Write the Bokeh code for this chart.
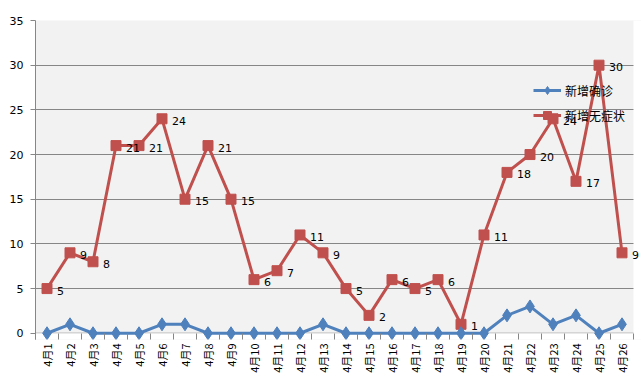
from bokeh.plotting import figure
from bokeh.models import (ColumnDataSource, FixedTicker, Legend, LegendItem, Range1d,
                          LabelSet, BoxAnnotation, Span)
from bokeh.core.properties import value
from bokeh.embed import file_html
from bokeh.resources import INLINE
import math

days = ["4月%d" % d for d in range(1, 27)]
confirmed = [0, 1, 0, 0, 0, 1, 1, 0, 0, 0, 0, 0, 1, 0, 0, 0, 0, 0, 0, 0, 2, 3, 1, 2, 0, 1]
asymptomatic = [5, 9, 8, 21, 21, 24, 15, 21, 15, 6, 7, 11, 9, 5, 2, 6, 5, 6, 1, 11, 18, 20, 24, 17, 30, 9]
y_ticks = [0, 5, 10, 15, 20, 25, 30, 35]

xs = list(range(1, len(days) + 1))
src = ColumnDataSource(dict(x=xs, c=confirmed, a=asymptomatic, lab=[str(v) for v in asymptomatic]))

BLUE = "#4F81BD"
RED = "#C0504D"
GRID = "#868686"

N = len(days)
YMIN = -0.7          # small pad below zero so markers at 0 are not clipped
XMAX = N + 0.5 + 8 / 23.0   # extra room on the right so the last label is not clipped
p = figure(width=641, height=379, output_backend="svg", toolbar_location=None,
           x_range=Range1d(0.5, XMAX), y_range=Range1d(YMIN, 35),
           min_border_left=35, min_border_right=0, min_border_top=20, min_border_bottom=40)
p.background_fill_color = "#F2F2F2"
p.border_fill_color = "white"
p.outline_line_color = None

p.xgrid.grid_line_color = None
p.ygrid.grid_line_color = GRID
p.ygrid.ticker = FixedTicker(ticks=y_ticks[1:])
p.add_layout(Span(location=0, dimension="width", line_color=GRID, line_width=1, level="underlay"))

# white strips outside the original plotting area
p.add_layout(BoxAnnotation(bottom=YMIN, top=0, fill_color="white", fill_alpha=1,
                           line_color=None, level="underlay"))
p.add_layout(BoxAnnotation(left=N + 0.5, fill_color="white", fill_alpha=1,
                           line_color=None, level="underlay"))

p.yaxis.ticker = FixedTicker(ticks=y_ticks)
p.yaxis.axis_line_color = GRID
p.yaxis.major_tick_line_color = GRID
p.yaxis.major_tick_in = 0
p.yaxis.major_tick_out = 5
p.yaxis.minor_tick_line_color = None
p.yaxis.major_label_text_font = "DejaVu Sans"
p.yaxis.major_label_text_font_size = "11px"
p.yaxis.major_label_text_color = "black"
p.yaxis.major_label_standoff = 7

p.xaxis.ticker = FixedTicker(ticks=xs, minor_ticks=[i + 0.5 for i in range(N + 1)])
p.xaxis.major_label_overrides = {x: d for x, d in zip(xs, days)}
p.xaxis.major_label_orientation = math.pi / 2
p.xaxis.axis_line_color = None
p.xaxis.major_tick_line_color = None
p.xaxis.minor_tick_line_color = GRID
p.xaxis.minor_tick_in = 6
p.xaxis.minor_tick_out = 0
p.xaxis.major_tick_out = 0
p.xaxis.major_tick_in = 0
p.xaxis.major_label_text_font = "Noto Sans CJK SC"
p.xaxis.major_label_text_font_size = "11px"
p.xaxis.major_label_text_color = "black"
p.xaxis.major_label_standoff = 4

rl = p.line("x", "a", source=src, line_color=RED, line_width=3)
rs = p.scatter("x", "a", source=src, marker="square", size=10, fill_color=RED, line_color=RED)
bl = p.line("x", "c", source=src, line_color=BLUE, line_width=3)
bs = p.scatter("x", "c", source=src, marker="diamond", size=13, fill_color=BLUE, line_color=BLUE)

labels = LabelSet(x="x", y="a", text="lab", source=src, x_offset=10, y_offset=-2,
                  text_align="left", text_baseline="middle", text_font=value("DejaVu Sans"),
                  text_font_size=value("11px"), text_color=value("black"))
p.add_layout(labels)

legend = Legend(items=[LegendItem(label="新增确诊", renderers=[bl, bs]),
                       LegendItem(label="新增无症状", renderers=[rl, rs])],
                location=(498, 214), orientation="vertical")
legend.background_fill_alpha = 0
legend.border_line_color = None
legend.padding = 0
legend.margin = 0
legend.spacing = 5
legend.glyph_width = 28
legend.glyph_height = 20
legend.label_standoff = 4
legend.label_text_font = "Noto Sans CJK SC"
legend.label_text_font_size = "12px"
legend.label_text_color = "black"
p.add_layout(legend, "center")

open("out.html", "w").write(file_html(p, INLINE))
